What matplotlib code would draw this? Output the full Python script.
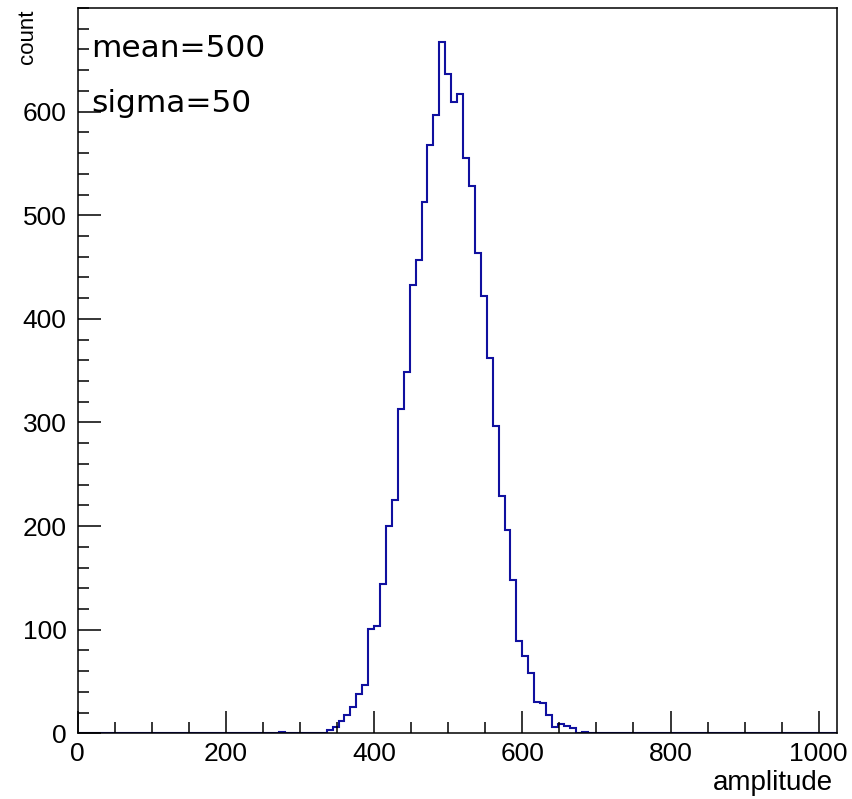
import numpy as np
import matplotlib
matplotlib.use("Agg")
import matplotlib.pyplot as plt
from matplotlib.ticker import MultipleLocator, FixedLocator

# histogram: 128 bins of width 8 over 0..1024, non-empty part starts at bin 34
n_bins = 128
x_min, x_max = 0, 1024
first_bin = 34
counts_part = [1, 0, 0, 0, 0, 0, 0, 0,
               3, 6, 12, 18, 25, 38, 47, 101, 104, 144, 200, 225,
               313, 349, 433, 457, 513, 568, 597, 667, 636, 609,
               617, 555, 528, 464, 422, 362, 297, 229, 196, 148,
               89, 75, 58, 30, 29, 18, 6, 9, 7, 5, 0, 1]
y_ticks = [0, 100, 200, 300, 400, 500, 600]

counts = np.zeros(n_bins)
counts[first_bin:first_bin + len(counts_part)] = counts_part
edges = np.linspace(x_min, x_max, n_bins + 1)

W, H = 852, 799
fig = plt.figure(figsize=(W / 100, H / 100), dpi=100)
left, right, top, bottom = 77.7, 836.5, 8, 733.3
ax = fig.add_axes([left / W, 1 - bottom / H, (right - left) / W, (bottom - top) / H])

ax.stairs(counts, edges, color="#10109f", linewidth=1.5)

ax.set_xlim(x_min, x_max)
ax.set_ylim(0, 700)
ax.xaxis.set_major_locator(MultipleLocator(200))
ax.xaxis.set_minor_locator(MultipleLocator(50))
ax.yaxis.set_major_locator(FixedLocator(y_ticks))
ax.yaxis.set_minor_locator(MultipleLocator(20))

for s in ax.spines.values():
    s.set_linewidth(1.1)
    s.set_color("black")

ax.tick_params(axis="both", which="both", direction="in", top=False, right=False, width=1.1)
ax.tick_params(axis="x", which="major", length=15.8, pad=6.5)
ax.tick_params(axis="x", which="minor", length=7.9)
ax.tick_params(axis="y", which="major", length=16.4, pad=8)
ax.tick_params(axis="y", which="minor", length=8.2)
for lab in ax.get_xticklabels() + ax.get_yticklabels():
    lab.set_family("Liberation Sans")
    lab.set_fontsize(19)

fig.text(833 / W, 1 - 790 / H, "amplitude", ha="right", va="baseline",
         family="Liberation Sans", fontsize=20)
fig.text(33 / W, 1 - 9 / H, "count", rotation=90, rotation_mode="anchor",
         ha="right", va="baseline", family="Liberation Sans", fontsize=16)

fig.text(91 / W, 1 - 57 / H, "mean=500", ha="left", va="baseline",
         family="DejaVu Sans", fontsize=22.5)
fig.text(91 / W, 1 - 112 / H, "sigma=50", ha="left", va="baseline",
         family="DejaVu Sans", fontsize=22.5)

fig.savefig("out.png", dpi=100)
